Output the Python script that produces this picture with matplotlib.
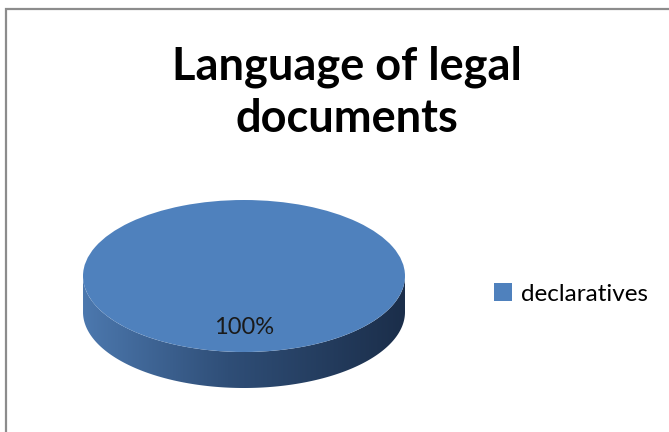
import numpy as np
import matplotlib.pyplot as plt
from matplotlib.patches import Rectangle, PathPatch
from matplotlib.path import Path
from matplotlib.colors import LinearSegmentedColormap

plt.rcParams['font.family'] = ['Lato', 'DejaVu Sans']

categories = ['declaratives']
values = [100]
title = 'Language of legal\ndocuments'

W, H = 669, 432
fig = plt.figure(figsize=(W / 100, H / 100), dpi=100)

# outer chart frame (runs off the right and bottom edges)
fig.add_artist(Rectangle((6 / W, -0.2), 1.3, 1.2 - 9 / H, transform=fig.transFigure,
                         fill=False, edgecolor='#8c8c8c', lw=1.6))

fig.text(347 / W, 1 - 93 / H, title, ha='center', va='center', ma='center',
         fontsize=32.5, fontweight='bold', color='black', linespacing=1.3)

# pie geometry in pixels: ellipse centre, half axes and side depth
cx, cy, rx, ry, depth = 244, 276, 161, 76, 36
d = depth / ry
ax = fig.add_axes([(cx - rx) / W, (H - cy - ry - depth) / H, 2 * rx / W, (2 * ry + depth) / H])

# side of the disc: lower half of the rim, shaded left to right
t = np.linspace(np.pi, 2 * np.pi, 200)
verts = np.concatenate([np.column_stack([np.cos(t), np.sin(t)]),
                        np.column_stack([np.cos(t[::-1]), np.sin(t[::-1]) - d])])
side = PathPatch(Path(verts, closed=True), facecolor='none', edgecolor='none')
ax.add_patch(side)
cmap = LinearSegmentedColormap.from_list('rim', [(0, '#4c78ae'), (0.45, '#2f4e77'), (1, '#1b2e4a')])
grad = np.linspace(0, 1, 256).reshape(1, -1)
im = ax.imshow(grad, cmap=cmap, extent=[-1, 1, -1 - d, 0.2], aspect='auto', zorder=1)
im.set_clip_path(side)

wedges, texts, autotexts = ax.pie(values, colors=['#4f81bd'], startangle=90, autopct='%1.0f%%',
                                  pctdistance=0.68, radius=1,
                                  textprops=dict(fontsize=17, color='#1a1a1a'),
                                  wedgeprops=dict(linewidth=0, zorder=2))
for a in autotexts:
    a.set_zorder(3)
ax.set_aspect('auto')
ax.set_xlim(-1, 1)
ax.set_ylim(-1 - d, 1)
ax.axis('off')

fig.legend(wedges, categories, loc='center left', bbox_to_anchor=(494 / W, 1 - 294 / H),
           frameon=False, fontsize=17.5, handlelength=0.75, handleheight=0.75,
           handletextpad=0.35, borderaxespad=0, borderpad=0)

fig.savefig('out.png', dpi=100, facecolor='white')
